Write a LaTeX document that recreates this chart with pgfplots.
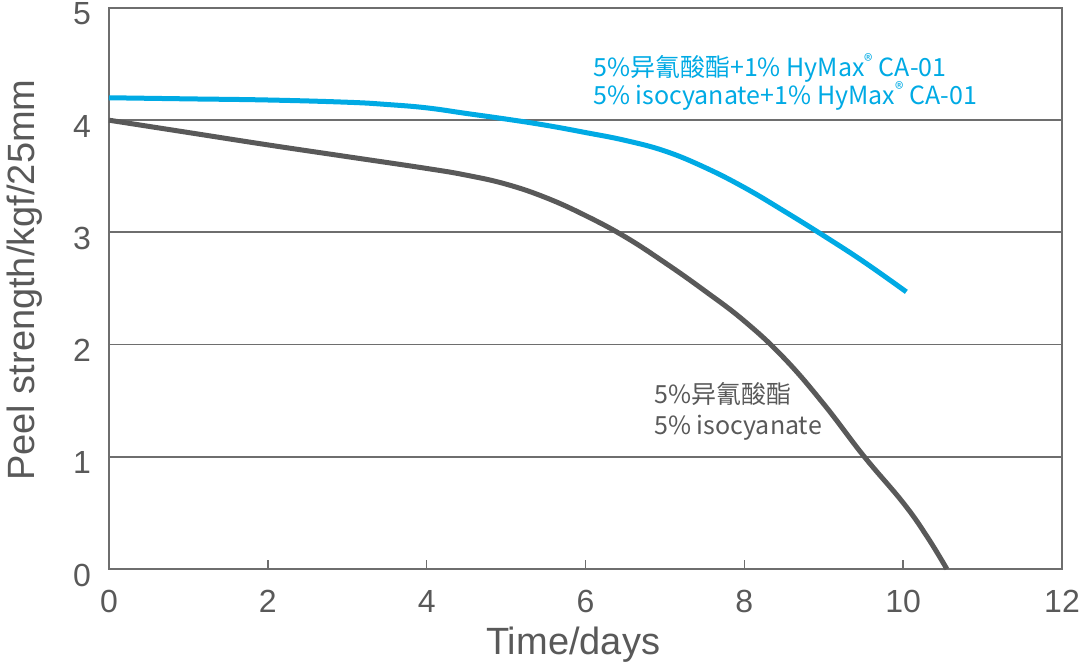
\documentclass[border=0pt]{standalone}
\usepackage{pgfplots}
\pgfplotsset{compat=1.18}
\usepackage{fontspec}
\setmainfont{Liberation Sans}
\newfontfamily\cjk{Noto Sans CJK SC}
\definecolor{cblue}{RGB}{0,170,228}
\definecolor{cdark}{RGB}{89,89,89}
\definecolor{cgrid}{RGB}{110,110,110}
\definecolor{ctext}{RGB}{89,89,89}
\begin{document}
\begin{tikzpicture}
\begin{axis}[
  scale only axis,
  width=953pt, height=561pt,
  xmin=0, xmax=12, ymin=0, ymax=5,
  xtick={0,2,...,12}, ytick={0,1,...,5},
  axis line style={draw=cgrid, line width=1.8pt},
  ymajorgrids,
  grid style={draw=cgrid, line width=1.8pt},
  tick align=inside,
  xtick pos=bottom,
  major tick length=9pt,
  xtick style={draw=cgrid, line width=1.6pt},
  ytick style={draw=none},
  /pgf/number format/assume math mode=true,
  ticklabel style={font=\fontsize{32}{32}\selectfont, text=ctext},
  xticklabel style={anchor=north, inner sep=0pt, yshift=-21pt},
  yticklabel style={anchor=east, inner sep=0pt, xshift=-18pt, yshift=-6pt},
  xlabel={Time/days},
  ylabel={Peel strength/kgf/25mm},
  label style={font=\fontsize{38}{38}\selectfont, text=ctext},
  xlabel style={at={(axis description cs:0.487,-0.135)}, anchor=center},
  ylabel style={at={(axis description cs:-0.088,0.515)}, anchor=center},
  clip=false,
]
\addplot[cblue, line width=5pt, smooth, tension=0.7] coordinates {
(0,4.20) (1,4.19) (2,4.18) (3,4.16) (3.5,4.14) (4,4.11) (4.5,4.06) (5,4.01)
(5.5,3.955) (6,3.89) (6.5,3.82) (7,3.725) (7.5,3.58) (8,3.40) (8.5,3.19)
(9,2.97) (9.5,2.74) (10.04,2.47)
};
\addplot[cdark, line width=5pt, smooth, tension=0.7] coordinates {
(0,4.00) (1,3.89) (2,3.78) (3,3.675) (4,3.57) (4.5,3.51) (5,3.43) (5.5,3.31)
(6,3.15) (6.5,2.96) (7,2.73) (7.5,2.48) (8,2.21) (8.5,1.88) (9,1.47)
(9.5,1.01) (10,0.59) (10.3,0.29) (10.55,0.00)
};
\node[anchor=base west, inner sep=0pt, text=cblue, font=\cjk\fontsize{25}{25}\selectfont]
  at (axis cs:6.095,4.388) {5\%异氰酸酯+1\% HyMax\textsuperscript{®} CA-01};
\node[anchor=base west, inner sep=0pt, text=cblue, font=\cjk\fontsize{25}{25}\selectfont]
  at (axis cs:6.095,4.139) {5\% isocyanate+1\% HyMax\textsuperscript{®} CA-01};
\node[anchor=base west, inner sep=0pt, text=cdark, font=\cjk\fontsize{25}{25}\selectfont]
  at (axis cs:6.864,1.473) {5\%异氰酸酯};
\node[anchor=base west, inner sep=0pt, text=cdark, font=\cjk\fontsize{25}{25}\selectfont]
  at (axis cs:6.864,1.203) {5\% isocyanate};
\end{axis}
\pgfresetboundingbox
\path (current axis.south west) ++(-109pt,-99pt) rectangle ++(1080pt,668pt);
\end{tikzpicture}
\end{document}
